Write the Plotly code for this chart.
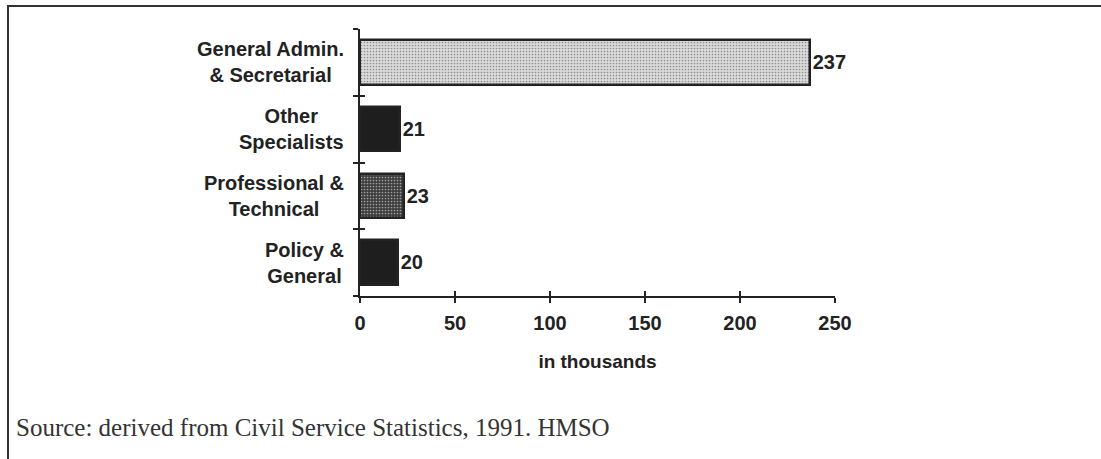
import plotly.graph_objects as go

# Staff groups, top to bottom, and their headcount (thousands)
categories = [
    "General Admin.<br>& Secretarial",
    "Other<br>Specialists",
    "Professional &<br>Technical",
    "Policy &<br>General",
]
values = [237, 21, 23, 20]
bar_fills = ["#dadada", "#1e1e1e", "#3e3e3e", "#1e1e1e"]
bar_stipple = [".", "", ".", ""]
stipple_ink = ["#c4c4c4", "#1e1e1e", "#5a5a5a", "#1e1e1e"]
x_ticks = [0, 50, 100, 150, 200, 250]
x_title = "in thousands"
source_note = "Source: derived from Civil Service Statistics, 1991. HMSO"

W, H = 1101, 459
PLOT_L, PLOT_R, PLOT_T, PLOT_B = 360, 835, 29, 296

def fx(px):
    return px / W

def fy(py):
    return 1 - py / H

n = len(categories)
ypos = [n - 1 - i for i in range(n)]
boundaries = [k - 0.5 for k in range(n + 1)]

INK = "#222222"
SANS = "Liberation Sans"

fig = go.Figure()
fig.add_trace(go.Bar(
    x=values,
    y=ypos,
    orientation="h",
    width=0.67,
    marker=dict(
        color=bar_fills,
        line=dict(color=INK, width=2.5),
        pattern=dict(shape=bar_stipple, fgcolor=stipple_ink,
                     size=3, solidity=0.25, fillmode="overlay"),
    ),
    text=[str(v) for v in values],
    textposition="outside",
    textfont=dict(family=SANS, size=20, color=INK, weight="bold"),
    cliponaxis=False,
    hoverinfo="skip",
    showlegend=False,
))
# invisible trace on the overlay axes so they are drawn
fig.add_trace(go.Scatter(x=[0], y=[0], xaxis="x2", yaxis="y2",
                         mode="markers", marker=dict(opacity=0),
                         hoverinfo="skip", showlegend=False))

xdom = [fx(PLOT_L), fx(PLOT_R)]
ydom = [fy(PLOT_B), fy(PLOT_T)]
yrange = [-0.5, n - 0.5]

fig.update_layout(
    width=W, height=H, autosize=False,
    margin=dict(l=0, r=0, t=0, b=0, pad=0, autoexpand=False),
    showlegend=False,
    paper_bgcolor="white",
    plot_bgcolor="white",
    bargap=0,
    xaxis=dict(
        domain=xdom, range=[0, 250], tickvals=x_ticks,
        ticks="outside", ticklen=5, tickwidth=2, tickcolor=INK,
        showline=True, linecolor=INK, linewidth=2,
        showgrid=False, zeroline=False, automargin=False,
        tickfont=dict(family=SANS, size=20, color=INK, weight="bold"),
        ticklabelstandoff=3,
        title=dict(text=x_title, standoff=22,
                   font=dict(family=SANS, size=19, color=INK, weight="bold")),
        anchor="y",
    ),
    yaxis=dict(
        domain=ydom, range=yrange, tickvals=boundaries,
        showticklabels=False,
        ticks="outside", ticklen=5, tickwidth=2, tickcolor=INK,
        showline=True, linecolor=INK, linewidth=2,
        showgrid=False, zeroline=False, automargin=False,
        anchor="x",
    ),
    xaxis2=dict(
        domain=xdom, range=[0, 250], tickvals=x_ticks, overlaying="x",
        side="bottom", anchor="y2", automargin=False,
        ticks="inside", ticklen=5, tickwidth=2, tickcolor=INK,
        showticklabels=False, showline=False, showgrid=False, zeroline=False,
    ),
    yaxis2=dict(
        domain=ydom, range=yrange, tickvals=boundaries, overlaying="y",
        side="left", anchor="x2", automargin=False,
        ticks="inside", ticklen=5, tickwidth=2, tickcolor=INK,
        showticklabels=False, showline=False, showgrid=False, zeroline=False,
    ),
)

# Category labels: centred lines, right-aligned against the axis
for label, yv in zip(categories, ypos):
    fig.add_annotation(
        x=fx(346), xref="paper", xanchor="right",
        y=yv, yref="y", yanchor="middle",
        text=label, align="center", showarrow=False,
        font=dict(family=SANS, size=20, color=INK, weight="bold"),
    )

# Source note below the chart
fig.add_annotation(
    x=fx(14), xref="paper", xanchor="left",
    y=fy(427), yref="paper", yanchor="middle",
    text=source_note, showarrow=False, align="left",
    font=dict(family="Liberation Serif", size=25, color="#333333"),
)

# Frame around the figure (top and left edges)
fig.add_shape(type="line", xref="paper", yref="paper",
              x0=fx(7), x1=1, y0=fy(6), y1=fy(6),
              line=dict(color="#333333", width=2))
fig.add_shape(type="line", xref="paper", yref="paper",
              x0=fx(8), x1=fx(8), y0=fy(6), y1=0,
              line=dict(color="#333333", width=2))

fig.write_html("out.html")
